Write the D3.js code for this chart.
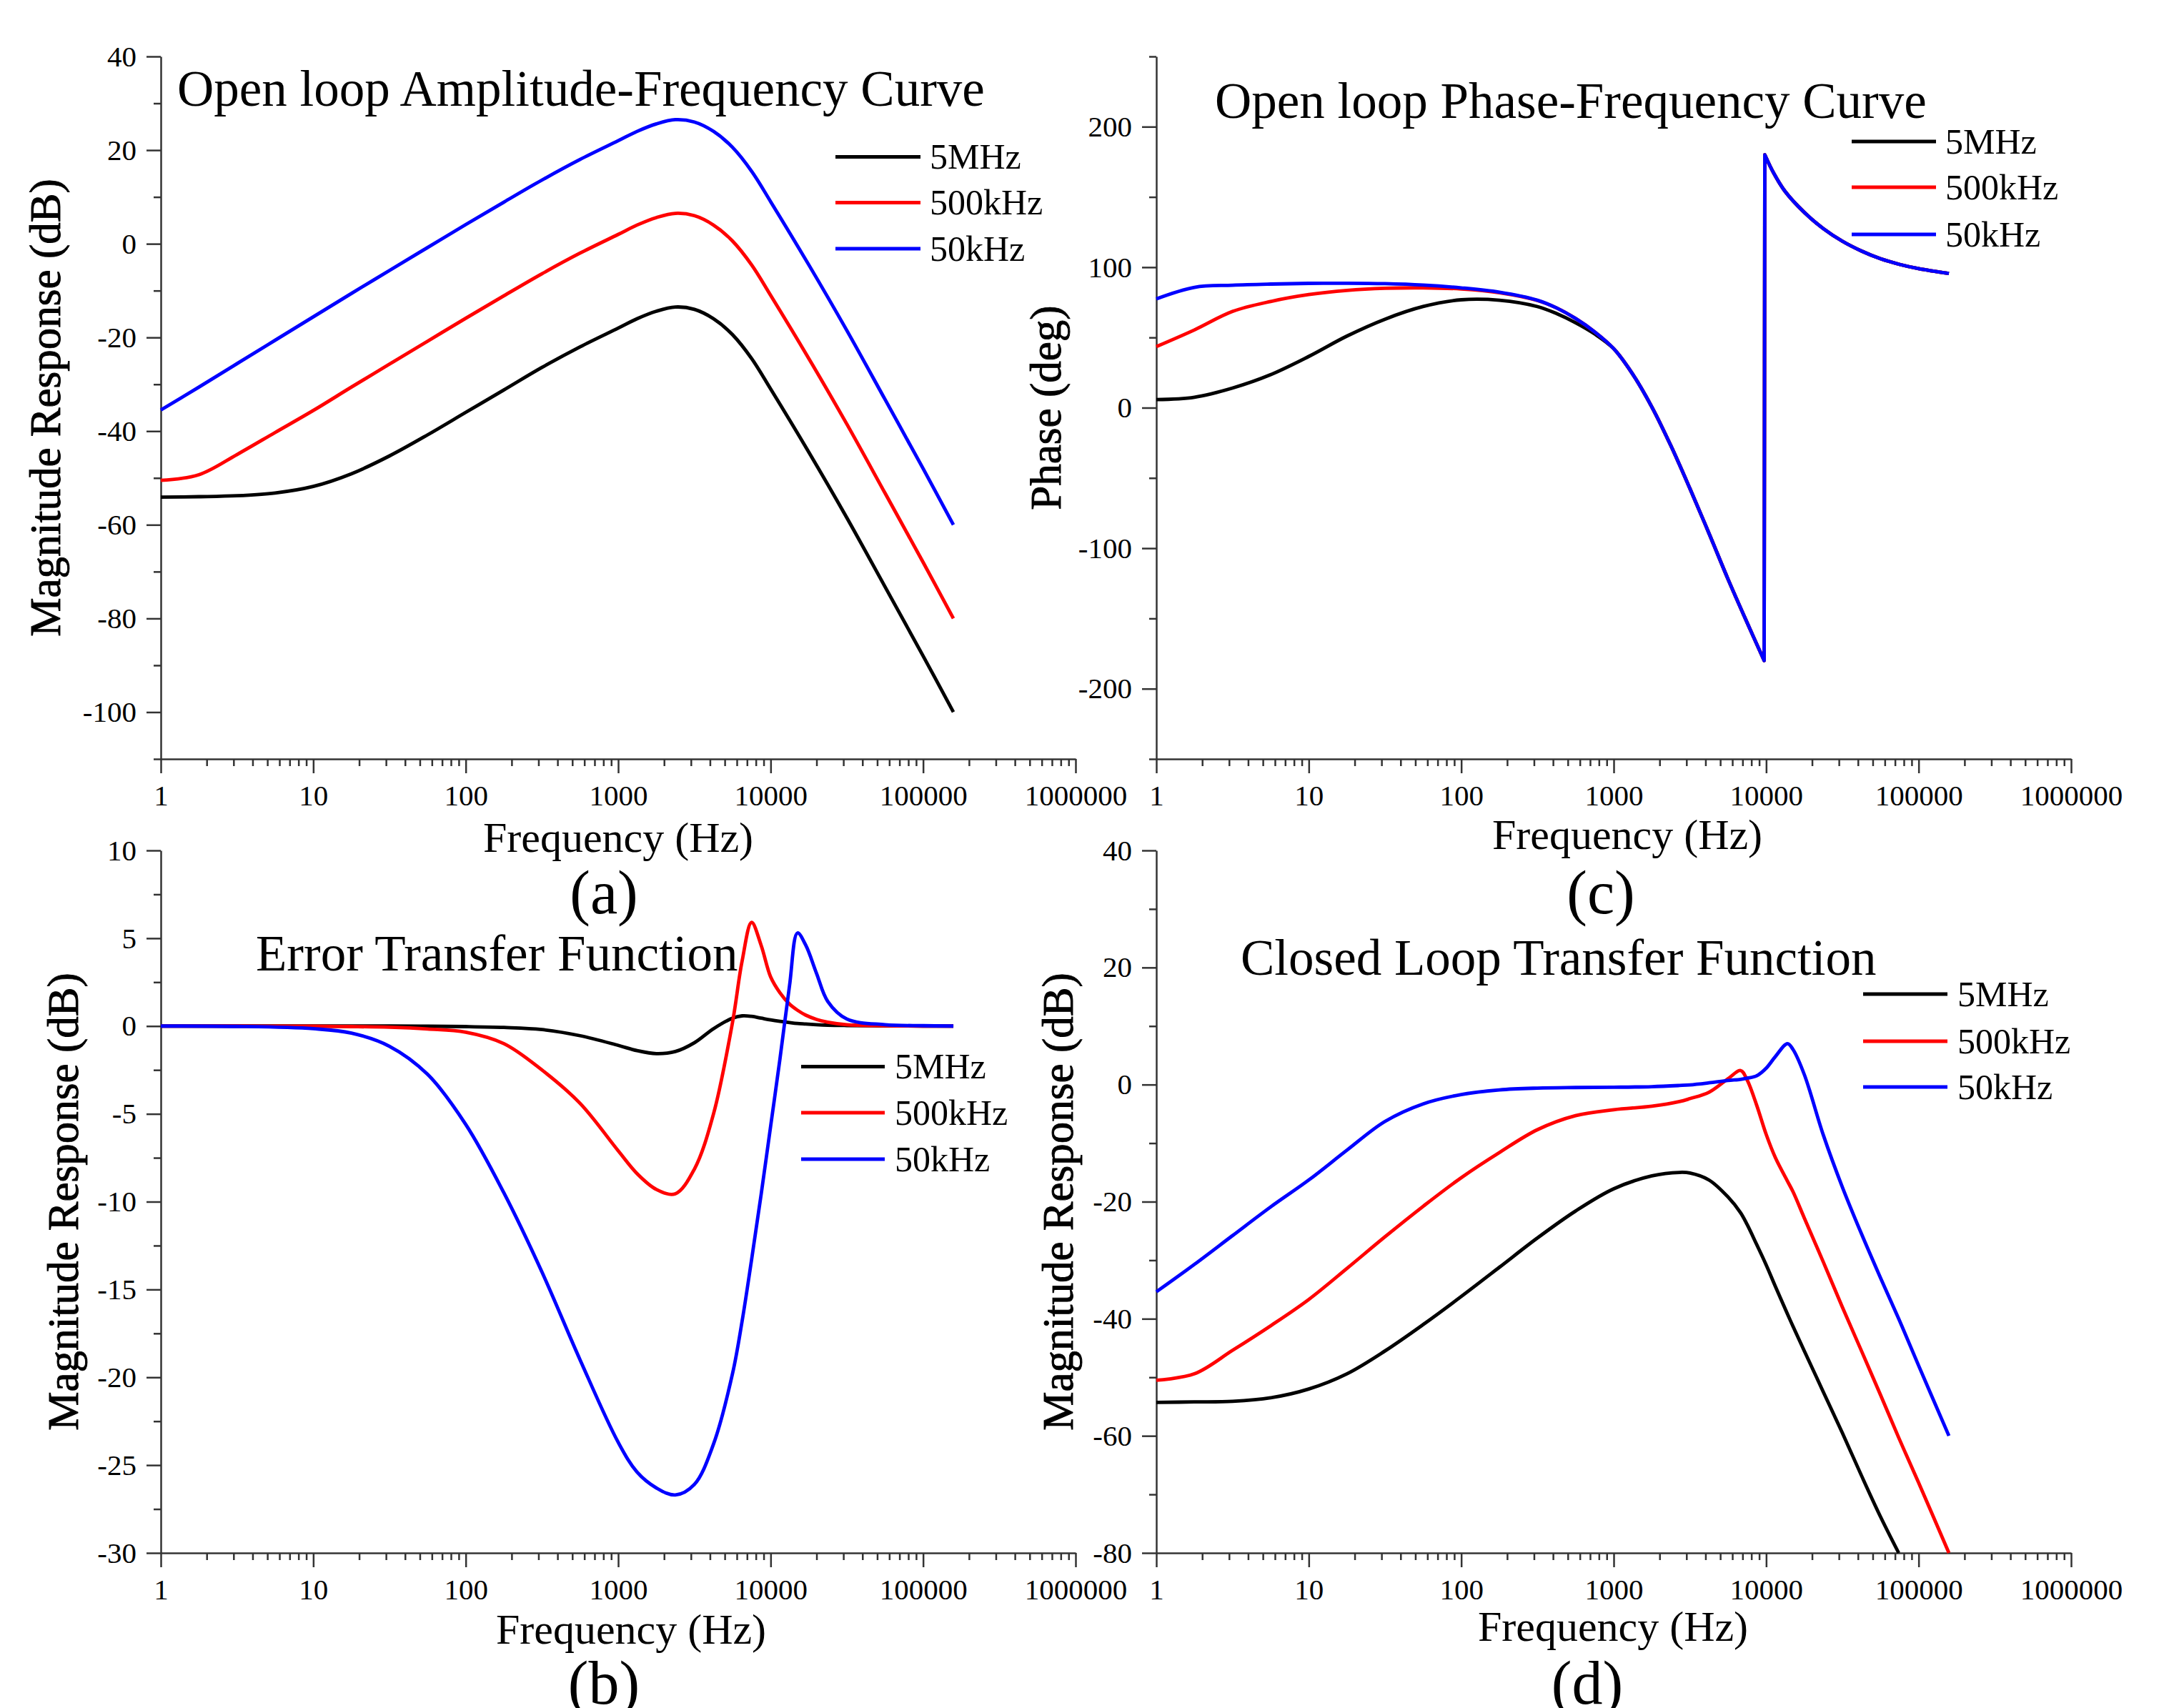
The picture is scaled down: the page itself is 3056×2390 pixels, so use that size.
<!DOCTYPE html>
<html>
<head>
<meta charset="utf-8">
<script src="https://cdn.jsdelivr.net/npm/d3@7/dist/d3.min.js"></script>
<style>
  html, body { margin: 0; padding: 0; background: #fff; }
  svg { display: block; }
</style>
</head>
<body>
<script>
// ---------------- DATA ----------------
const seriesNames = ["5MHz", "500kHz", "50kHz"];
const xTickValues = [1, 10, 100, 1000, 10000, 100000, 1000000];

// (a) Open loop amplitude-frequency
const freqA = [1, 1.78, 3.16, 5.62, 10, 17.8, 31.6, 56.2, 100, 178, 316, 562, 1000, 1330, 1780, 2370, 3160, 4220, 5620, 7500, 10000, 17800, 31600, 56200, 100000, 158000];
const magA_5MHz   = [-54.1, -54.0, -53.8, -53.2, -51.8, -49.1, -45.3, -40.8, -36.0, -31.2, -26.4, -22.0, -18.0, -16.0, -14.4, -13.5, -14.0, -16.0, -19.4, -24.5, -31.0, -44.5, -58.5, -73.2, -88.0, -100.0];
const magA_500kHz = [-50.5, -49.3, -45.0, -40.3, -35.6, -30.6, -25.7, -20.8, -15.9, -11.1, -6.4, -2.0, 2.0, 4.0, 5.6, 6.5, 6.0, 4.0, 0.6, -4.5, -11.0, -24.5, -38.5, -53.2, -68.0, -80.0];
const magA_50kHz  = [-35.5, -30.6, -25.6, -20.6, -15.6, -10.6, -5.7, -0.8, 4.1, 8.9, 13.6, 18.0, 22.0, 24.0, 25.6, 26.5, 26.0, 24.0, 20.6, 15.5, 9.0, -4.5, -18.5, -33.2, -48.0, -60.0];
const yTicksA = [-100, -80, -60, -40, -20, 0, 20, 40];

// (c) Open loop phase-frequency
const freqC = [1, 1.78, 3.16, 5.62, 10, 17.8, 31.6, 56.2, 100, 178, 316, 422, 562, 750, 1000, 1330, 1780, 2370, 3160, 4220, 5620, 7500, 9700, 9800, 11200, 13300, 17800, 23700, 31600, 42200, 56200, 75000, 100000, 158000];
const phaseC_5MHz   = [5.8, 7.5, 14.0, 23.5, 36.5, 51.0, 63.0, 72.0, 76.8, 76.5, 72.0, 67.0, 60.5, 52.5, 42.0, 24.0, 0.5, -27.0, -57.5, -89.5, -122.0, -153.0, -180.0, 180.0, 167.0, 154.0, 139.0, 127.5, 118.5, 111.5, 106.0, 102.0, 99.0, 95.5];
const phaseC_500kHz = [43.5, 55.4, 68.5, 75.6, 80.5, 83.5, 85.0, 85.3, 84.5, 81.8, 76.3, 71.0, 63.5, 54.0, 42.0, 24.0, 0.5, -27.0, -57.5, -89.5, -122.0, -153.0, -180.0, 180.0, 167.0, 154.0, 139.0, 127.5, 118.5, 111.5, 106.0, 102.0, 99.0, 95.5];
const phaseC_50kHz  = [77.5, 85.7, 87.2, 88.0, 88.5, 88.6, 88.3, 87.3, 85.3, 82.2, 76.5, 71.0, 63.5, 54.0, 42.0, 24.0, 0.5, -27.0, -57.5, -89.5, -122.0, -153.0, -180.0, 180.0, 167.0, 154.0, 139.0, 127.5, 118.5, 111.5, 106.0, 102.0, 99.0, 95.5];
const yTicksC = [-200, -100, 0, 100, 200];

// (b) Error transfer function
const freqB = [1, 3.16, 10, 17.8, 31.6, 56.2, 100, 178, 316, 562, 1000, 1330, 1780, 2370, 3160, 4220, 5620, 6500, 7500, 8660, 10000, 11500, 13300, 15000, 17000, 20000, 23700, 31600, 56200, 100000, 158000];
const errB_5MHz   = [0, 0, 0, 0, 0, -0.01, -0.03, -0.08, -0.2, -0.55, -1.1, -1.4, -1.57, -1.45, -0.95, -0.15, 0.45, 0.58, 0.55, 0.45, 0.35, 0.27, 0.2, 0.15, 0.12, 0.08, 0.05, 0.03, 0.01, 0, 0];
const errB_500kHz = [0, 0, -0.01, -0.03, -0.07, -0.17, -0.35, -1.0, -2.5, -4.4, -7.1, -8.4, -9.3, -9.55, -8.15, -5.0, 0.2, 3.7, 5.9, 4.6, 2.8, 1.9, 1.25, 0.9, 0.62, 0.38, 0.22, 0.08, 0.02, 0, 0];
const errB_50kHz  = [0, -0.02, -0.15, -0.4, -1.15, -2.75, -5.6, -9.5, -14.0, -19.0, -23.7, -25.4, -26.3, -26.7, -26.1, -23.8, -19.8, -16.8, -13.3, -9.6, -5.7, -1.9, 2.3, 5.3, 4.6, 3.0, 1.4, 0.4, 0.08, 0.02, 0];
const yTicksB = [-30, -25, -20, -15, -10, -5, 0, 5, 10];

// (d) Closed loop transfer function
const freqD = [1, 1.78, 3.16, 5.62, 10, 17.8, 31.6, 56.2, 100, 178, 316, 562, 1000, 1780, 2700, 3160, 4220, 5620, 6800, 7500, 8660, 10000, 11500, 13800, 15000, 17800, 23700, 31600, 42200, 56200, 74000, 100000, 158000];
const clD_5MHz   = [-54.3, -54.2, -54.1, -53.5, -52.0, -49.4, -45.5, -41.0, -36.2, -31.2, -26.2, -21.6, -17.8, -15.6, -15.0, -15.1, -16.3, -19.2, -21.9, -23.9, -27.3, -30.8, -34.5, -39.2, -41.3, -45.5, -52.5, -59.5, -66.8, -73.8, -80.0, null, null];
const clD_500kHz = [-50.5, -49.4, -45.4, -41.2, -36.7, -31.4, -26.0, -20.8, -15.9, -11.6, -7.7, -5.3, -4.3, -3.7, -2.9, -2.4, -1.3, 1.0, 2.4, 0.8, -3.5, -8.5, -12.5, -16.5, -18.3, -22.8, -30.3, -38.0, -45.5, -53.0, -60.3, -68.0, -80.0];
const clD_50kHz  = [-35.4, -30.7, -25.8, -20.9, -16.3, -11.2, -6.3, -3.3, -1.7, -0.9, -0.6, -0.5, -0.45, -0.35, -0.15, -0.05, 0.3, 0.7, 0.9, 1.1, 1.5, 2.8, 4.8, 7.0, 6.0, 1.7, -8.6, -17.5, -25.5, -33.0, -40.0, -48.0, -60.0];
const yTicksD = [-80, -60, -40, -20, 0, 20, 40];

// ---------------- DRAWING ----------------
const W = 3056, H = 2390;
const colors = ["#000000", "#ff0000", "#0000ff"];
const FONT = "'Liberation Serif', 'Times New Roman', serif";
const AXIS_COLOR = "#333333";
const LINE_W = 4.8;

const svg = d3.select("body").append("svg")
  .attr("width", W).attr("height", H)
  .attr("viewBox", `0 0 ${W} ${H}`);
svg.append("rect").attr("width", W).attr("height", H).attr("fill", "#fff");

const panels = [
  { x0: 225, x1: 1505, y0: 79, y1: 1062, ydom: [-110, 40], yTicks: yTicksA, yMinorStep: 20, yMinorStart: -110,
    freq: freqA, series: [magA_5MHz, magA_500kHz, magA_50kHz],
    title: "Open loop Amplitude-Frequency Curve", titleX: 248, titleY: 148,
    yLabel: "Magnitude Response (dB)", yLabelX: 84,
    xLabelX: 865, xLabelY: 1192,
    tag: "(a)", tagX: 845, tagY: 1278,
    legX: 1169, legLen: 119, legTextX: 1301, legY: [219.5, 283.5, 348] },
  { x0: 1618, x1: 2898, y0: 79, y1: 1062, ydom: [-250, 250], yTicks: yTicksC, yMinorStep: 100, yMinorStart: -250,
    freq: freqC, series: [phaseC_5MHz, phaseC_500kHz, phaseC_50kHz],
    title: "Open loop Phase-Frequency Curve", titleX: 1700, titleY: 165,
    yLabel: "Phase (deg)", yLabelX: 1484,
    xLabelX: 2277, xLabelY: 1188,
    tag: "(c)", tagX: 2240, tagY: 1278,
    legX: 2591, legLen: 118, legTextX: 2722, legY: [198, 262, 328] },
  { x0: 225, x1: 1505, y0: 1190, y1: 2173, ydom: [-30, 10], yTicks: yTicksB, yMinorStep: 5, yMinorStart: -27.5,
    freq: freqB, series: [errB_5MHz, errB_500kHz, errB_50kHz],
    title: "Error Transfer Function", titleX: 358, titleY: 1358,
    yLabel: "Magnitude Response (dB)", yLabelX: 109,
    xLabelX: 883, xLabelY: 2300,
    tag: "(b)", tagX: 845, tagY: 2384,
    legX: 1121, legLen: 117, legTextX: 1252, legY: [1492.5, 1557, 1622] },
  { x0: 1618, x1: 2898, y0: 1190, y1: 2173, ydom: [-80, 40], yTicks: yTicksD, yMinorStep: 20, yMinorStart: -70,
    freq: freqD, series: [clD_5MHz, clD_500kHz, clD_50kHz],
    title: "Closed Loop Transfer Function", titleX: 1736, titleY: 1364,
    yLabel: "Magnitude Response (dB)", yLabelX: 1501,
    xLabelX: 2257, xLabelY: 2296,
    tag: "(d)", tagX: 2221, tagY: 2384,
    legX: 2607, legLen: 118, legTextX: 2739, legY: [1391, 1457, 1521] }
];

function splitWraps(pts) {
  const pieces = [[]];
  pts.forEach((p, i) => {
    if (i > 0 && Math.abs(p[1] - pts[i - 1][1]) > 180) pieces.push([]);
    pieces[pieces.length - 1].push(p);
  });
  return pieces;
}

function styleAxis(sel) {
  sel.attr("font-family", FONT).attr("font-size", 41).attr("color", AXIS_COLOR);
  sel.selectAll("line").attr("stroke", AXIS_COLOR).attr("stroke-width", 2.5);
  sel.selectAll("path.domain").attr("stroke", AXIS_COLOR).attr("stroke-width", 2.5);
  sel.selectAll("text").attr("fill", "#000");
}

panels.forEach(p => {
  const g = svg.append("g");
  const x = d3.scaleLog().domain([1, 1e6]).range([p.x0, p.x1]);
  const y = d3.scaleLinear().domain(p.ydom).range([p.y1, p.y0]);

  // x minor ticks
  const minorX = [];
  for (let k = 0; k < 6; k++) for (let m = 2; m <= 9; m++) minorX.push(m * Math.pow(10, k));
  const gxm = g.append("g").attr("transform", `translate(0,${p.y1})`)
    .call(d3.axisBottom(x).tickValues(minorX).tickSize(10).tickSizeOuter(0).tickFormat(""));
  gxm.select("path.domain").remove();
  styleAxis(gxm);

  const gx = g.append("g").attr("transform", `translate(0,${p.y1})`)
    .call(d3.axisBottom(x).tickValues(xTickValues).tickSize(20).tickPadding(16).tickSizeOuter(0)
      .tickFormat(d => String(Math.round(d))));
  styleAxis(gx);

  // y minor ticks
  const minorY = [];
  for (let v = p.yMinorStart; v <= p.ydom[1] + 1e-9; v += p.yMinorStep) minorY.push(v);
  const gym = g.append("g").attr("transform", `translate(${p.x0},0)`)
    .call(d3.axisLeft(y).tickValues(minorY).tickSize(10).tickSizeOuter(0).tickFormat(""));
  gym.select("path.domain").remove();
  styleAxis(gym);

  const gy = g.append("g").attr("transform", `translate(${p.x0},0)`)
    .call(d3.axisLeft(y).tickValues(p.yTicks).tickSize(20).tickPadding(14).tickSizeOuter(0)
      .tickFormat(d => String(d)));
  styleAxis(gy);

  // curves
  const line = d3.line()
    .x(d => x(d[0])).y(d => y(d[1]))
    .curve(d3.curveCatmullRom.alpha(0.5));
  p.series.forEach((vals, si) => {
    const pts = p.freq.map((f, i) => [f, vals[i]]).filter(d => d[1] !== null);
    const pieces = splitWraps(pts);
    const dStr = pieces.map((pc, i) => {
      const s = line(pc);
      return i ? "L" + s.slice(1) : s;
    }).join("");
    g.append("path").attr("d", dStr)
      .attr("fill", "none").attr("stroke", colors[si])
      .attr("stroke-width", LINE_W).attr("stroke-linejoin", "round").attr("stroke-linecap", "butt");
  });

  // legend
  seriesNames.forEach((name, si) => {
    g.append("line")
      .attr("x1", p.legX).attr("x2", p.legX + p.legLen)
      .attr("y1", p.legY[si]).attr("y2", p.legY[si])
      .attr("stroke", colors[si]).attr("stroke-width", LINE_W);
    g.append("text")
      .attr("x", p.legTextX).attr("y", p.legY[si]).attr("dy", "0.33em")
      .attr("font-family", FONT).attr("font-size", 50).attr("fill", "#000")
      .text(name);
  });

  // title
  g.append("text").attr("x", p.titleX).attr("y", p.titleY)
    .attr("font-family", FONT).attr("font-size", 71).attr("fill", "#000")
    .text(p.title);

  // x label
  g.append("text").attr("x", p.xLabelX).attr("y", p.xLabelY)
    .attr("text-anchor", "middle")
    .attr("font-family", FONT).attr("font-size", 60).attr("fill", "#000")
    .text("Frequency (Hz)");

  // y label
  const cy = (p.y0 + p.y1) / 2;
  g.append("text")
    .attr("transform", `translate(${p.yLabelX},${cy}) rotate(-90)`)
    .attr("text-anchor", "middle")
    .attr("font-family", FONT).attr("font-size", 61).attr("fill", "#000")
    .attr("stroke", "#000").attr("stroke-width", 0.9)
    .text(p.yLabel);

  // panel tag
  g.append("text").attr("x", p.tagX).attr("y", p.tagY)
    .attr("text-anchor", "middle")
    .attr("font-family", FONT).attr("font-size", 86).attr("fill", "#000")
    .text(p.tag);
});
</script>
</body>
</html>
